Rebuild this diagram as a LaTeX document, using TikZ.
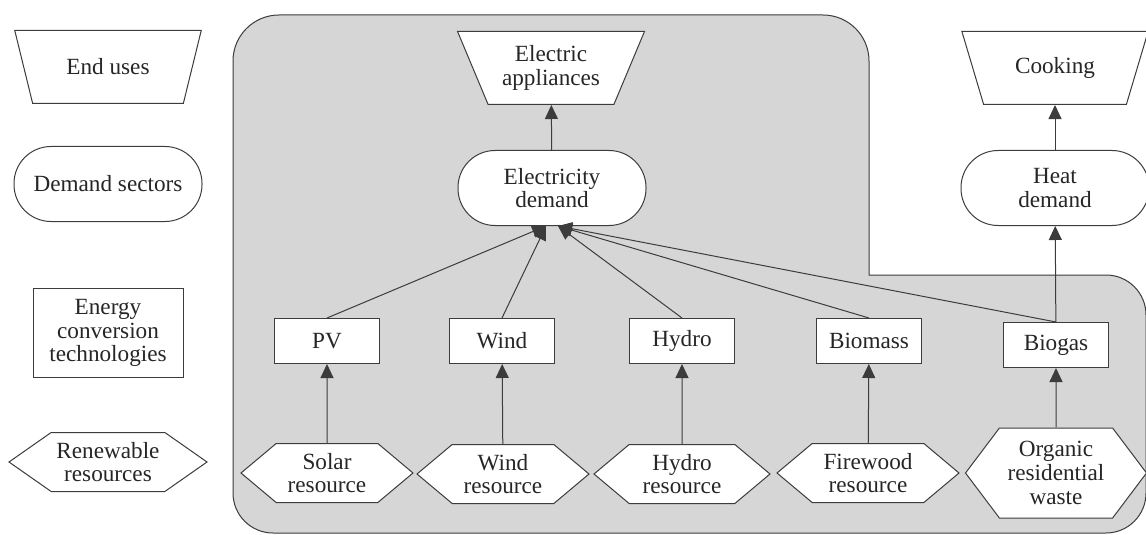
\documentclass[tikz,border=0pt]{standalone}
\usepackage{fontspec}
\setmainfont{Liberation Serif}
\usetikzlibrary{shapes.geometric,shapes.symbols,arrows.meta}
\definecolor{linegray}{HTML}{3C3C3C}
\definecolor{regiongray}{HTML}{D6D6D6}
\tikzset{%
  box/.style={draw=linegray, fill=white, text=black!85, align=center, inner sep=1pt,
    font=\fontsize{11.6}{11.8}\selectfont},
  enduse/.style={box, trapezium, shape border rotate=180, trapezium angle=63,
    trapezium stretches=true, minimum width=93.5pt, minimum height=36.5pt},
  sector/.style={box, rectangle, rounded corners=18.5pt, minimum width=94pt, minimum height=37.5pt},
  techbox/.style={box, rectangle, minimum width=52.5pt, minimum height=22.5pt},
  resource/.style={box, signal, signal to=west and east, signal pointer angle=80,
    minimum width=86pt, minimum height=29.5pt},
  flow/.style={draw=linegray, -{Triangle[length=7pt,width=6.5pt]}}
}

\begin{document}
\begin{tikzpicture}[x=0.5pt, y=-0.5pt, line width=0.5pt]
    \useasboundingbox (0,0) rectangle (1146,535);
    % shaded system boundary
    \filldraw[fill=regiongray, draw=linegray] (233,300) [rounded corners=23pt] -- (233,15) -- (869,15)
      [sharp corners] -- (869,275) [rounded corners=20pt] -- (1146,275) -- (1146,533) -- (233,533) -- cycle;

    % legend
    \node[enduse] (lgend) at (108,67) {End uses};
    \node[sector] (lgdem) at (108,184) {Demand sectors};
    \node[techbox, minimum width=75pt, minimum height=44.5pt] (lgtech) at (108,333) {Energy\\conversion\\technologies};
    \node[resource, minimum width=99pt, signal pointer angle=70] (lgres) at (108,462) {Renewable\\resources};

    % end uses and demand
    \node[enduse] (elecapp) at (551,68) {Electric\\appliances};
    \node[sector] (elecdem) at (552,188) {Electricity\\demand};
    \node[enduse] (cook) at (1055,68) {Cooking};
    \node[sector] (heatdem) at (1055,188) {Heat\\demand};

    % conversion technologies
    \node[techbox] (pv) at (327,341) {PV};
    \node[techbox] (wind) at (502,341) {Wind};
    \node[techbox] (hydro) at (682,341) {Hydro};
    \node[techbox] (biomass) at (869,341) {Biomass};
    \node[techbox] (biogas) at (1056,345) {Biogas};

    % resources
    \node[resource] (solarres) at (327,473) {Solar\\resource};
    \node[resource] (windres) at (503,474) {Wind\\resource};
    \node[resource, minimum width=88pt] (hydrores) at (682,474) {Hydro\\resource};
    \node[resource, minimum width=91pt] (firewood) at (868,473) {Firewood\\resource};
    \node[resource, minimum width=90.5pt, minimum height=45pt, signal pointer angle=106] (organic) at (1056,473) {Organic\\residential\\waste};

    \draw[flow] (elecdem) -- (elecapp);
    \draw[flow] (heatdem) -- (cook);
    \draw[flow] (biogas) -- (heatdem);

    \draw[flow] (solarres) -- (pv);
    \draw[flow] (windres) -- (wind);
    \draw[flow] (hydrores) -- (hydro);
    \draw[flow] (firewood) -- (biomass);
    \draw[flow] (organic) -- (biogas);

    \draw[flow] (pv.north) -- ([xshift=-3pt]elecdem.south);
    \draw[flow] (wind.north) -- ([xshift=-3pt]elecdem.south);
    \draw[flow] (hydro.north) -- ([xshift=3pt]elecdem.south);
    \draw[flow] (biomass.north) -- ([xshift=3pt]elecdem.south);
    \draw[flow] (biogas.north) -- ([xshift=3pt]elecdem.south);
  \end{tikzpicture}
\end{document}
